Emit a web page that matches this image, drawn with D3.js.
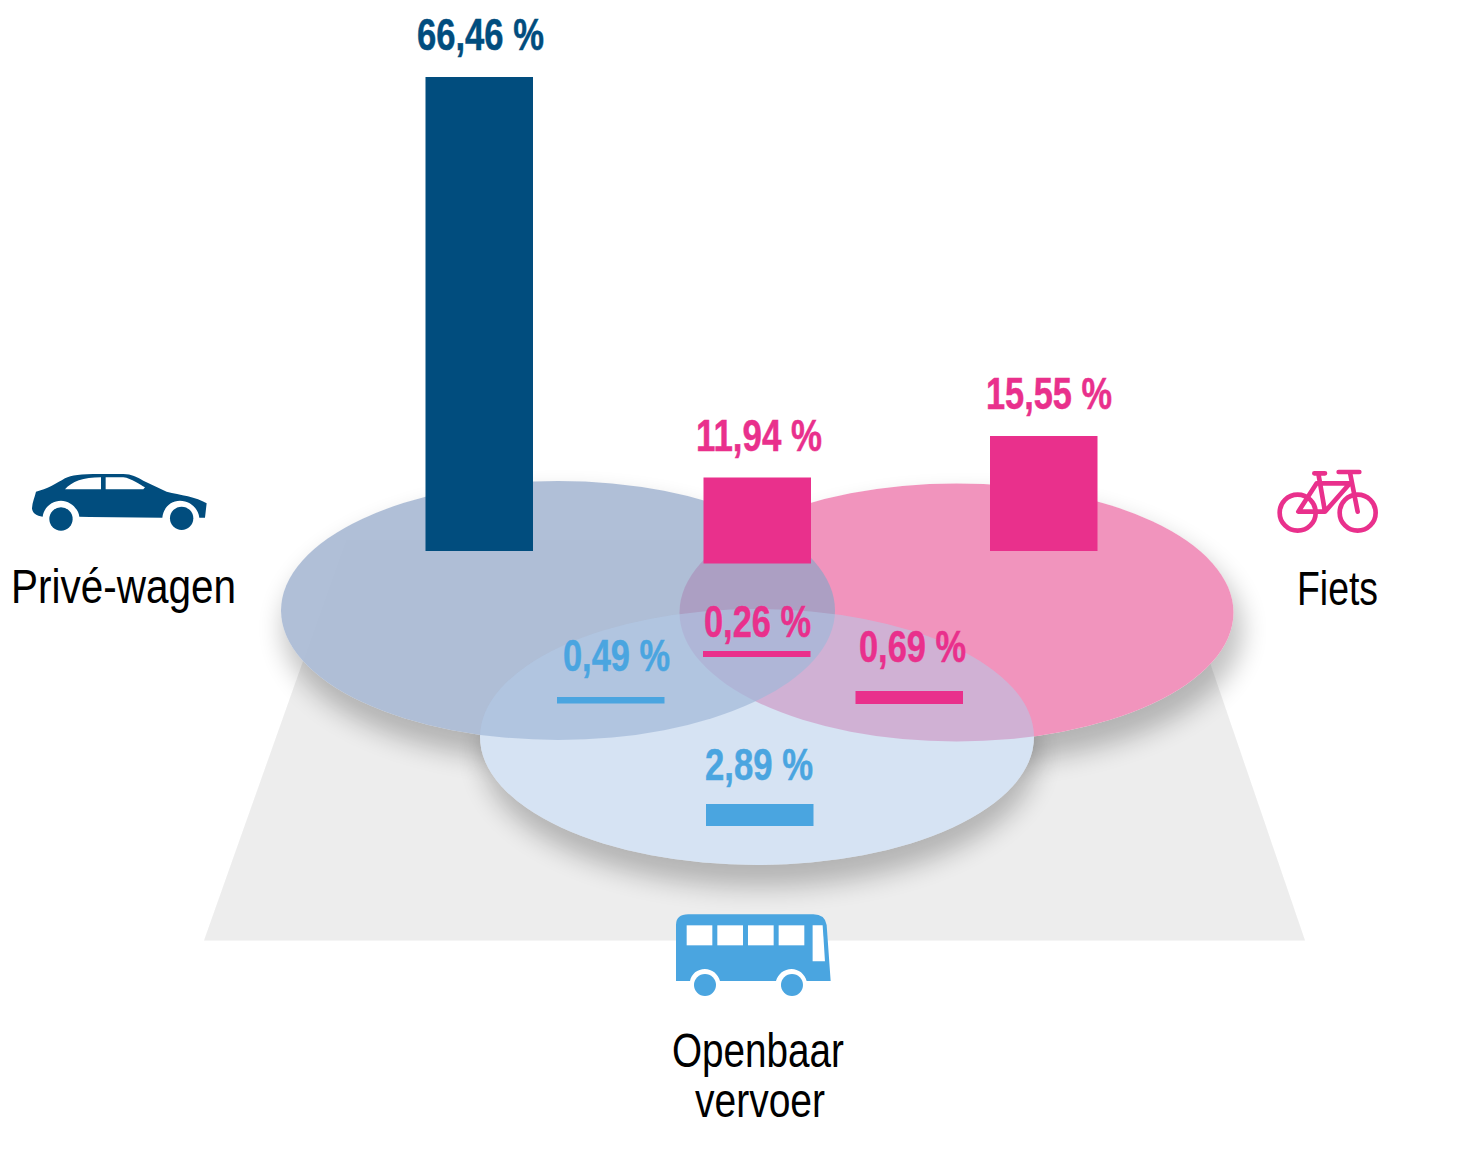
<!DOCTYPE html>
<html>
<head>
<meta charset="utf-8">
<title>Privé-wagen, fiets, openbaar vervoer</title>
<script src="https://cdn.jsdelivr.net/npm/d3@7"></script>
<style>
  html, body { margin: 0; padding: 0; background: #fff; }
  svg { display: block; }
  .value { font-family: "Liberation Sans Narrow", "Liberation Sans", Arial, sans-serif; font-weight: 700; font-size: 44px; stroke-width: 0.5px; }
  .mode { font-family: "Liberation Sans Narrow", "Liberation Sans", Arial, sans-serif; font-size: 49px; fill: #000; }
</style>
</head>
<body>
<svg id="chart"></svg>
<script>
/* data */
const regions = ["prive", "priveFiets", "fiets", "priveOv", "alle", "fietsOv", "ov"];
const values = [66.46, 11.94, 15.55, 0.49, 0.26, 0.69, 2.89];
const valueLabels = ["66,46 %", "11,94 %", "15,55 %", "0,49 %", "0,26 %", "0,69 %", "2,89 %"];
const groups = ["prive", "fiets", "fiets", "ov", "fiets", "fiets", "ov"];

const modes = ["fiets", "prive", "ov"];           // drawing order of the ellipses
const modeLabels = [["Fiets"], ["Privé-wagen"], ["Openbaar", "vervoer"]];

const width = 1461, height = 1160;
const NAVY = "#014d7e", PINK = "#e9308c", SKY = "#4aa5e0";

const colour = d3.scaleOrdinal().domain(["prive", "fiets", "ov"]).range([NAVY, PINK, SKY]);

/* layout scales: bars stand on a different baseline in every region */
const barX = d3.scaleOrdinal().domain(regions).range([425.5, 703.5, 990, 557, 703, 855.5, 706]);
const barBase = d3.scaleOrdinal().domain(regions).range([551, 563.5, 551, 703.5, 657, 704, 826]);
const labelX = d3.scaleOrdinal().domain(regions).range([417, 696, 986, 563, 704, 859, 705]);
const labelY = d3.scaleOrdinal().domain(regions).range([50, 451, 409, 671, 637, 662, 780]);
const labelW = d3.scaleOrdinal().domain(regions).range([127, 126, 126, 107, 107, 107, 108]);

// the source is not strictly linear, small shares are drawn thicker
const barH = d3.scaleLinear()
    .domain([0.26, 0.49, 0.69, 2.89, 11.94, 15.55, 66.46])
    .range([6, 6.5, 13, 22, 86, 115, 474]);
const BAR_W = 107.5;

const ellX = d3.scaleOrdinal().domain(modes).range([956.5, 558, 757]);
const ellY = d3.scaleOrdinal().domain(modes).range([612.5, 610.5, 737]);
const ellRy = d3.scaleOrdinal().domain(modes).range([129, 129.5, 128]);
const ellFill = d3.scaleOrdinal().domain(modes).range(["#f088b6", "#8ea4c6", "#b2cbea"]);
const ellAlpha = d3.scaleOrdinal().domain(modes).range([0.9, 0.7, 0.52]);
const ELL_RX = 277;

const svg = d3.select("#chart").attr("width", width).attr("height", height)
    .attr("viewBox", [0, 0, width, height]);

const defs = svg.append("defs");
defs.append("filter").attr("id", "soft")
    .attr("x", "-20%").attr("y", "-30%").attr("width", "140%").attr("height", "160%")
    .append("feGaussianBlur").attr("stdDeviation", 13);

// floor and shadows stay outside the ellipses
const mask = defs.append("mask").attr("id", "outside").attr("maskUnits", "userSpaceOnUse")
    .attr("x", 0).attr("y", 0).attr("width", width).attr("height", height);
mask.append("rect").attr("width", width).attr("height", height).attr("fill", "#fff");
mask.selectAll("ellipse").data(modes).join("ellipse")
    .attr("cx", ellX).attr("cy", ellY).attr("rx", ELL_RX).attr("ry", ellRy).attr("fill", "#000");

const floorPts = "204,940.5 346,540 1168,540 1305,940.5";
svg.append("polygon").attr("points", floorPts).attr("fill", "#ededed").attr("opacity", 0.15);

const under = svg.append("g").attr("mask", "url(#outside)");
under.append("polygon").attr("points", floorPts).attr("fill", "#ededed");
under.selectAll("ellipse").data(modes).join("ellipse")
    .attr("cx", d => ellX(d) + (d === "fiets" ? 9 : d === "prive" ? 2 : 3))
    .attr("cy", d => ellY(d) + 18)
    .attr("rx", ELL_RX)
    .attr("ry", d => ellRy(d) + 4)
    .attr("fill", "#000").attr("opacity", 0.24)
    .attr("filter", "url(#soft)");

svg.append("g").selectAll("ellipse").data(modes).join("ellipse")
    .attr("cx", ellX).attr("cy", ellY).attr("rx", ELL_RX).attr("ry", ellRy)
    .attr("fill", ellFill).attr("fill-opacity", ellAlpha);

/* bars */
svg.append("g").selectAll("rect").data(regions).join("rect")
    .attr("x", barX)
    .attr("y", d => barBase(d) - barH(values[regions.indexOf(d)]))
    .attr("width", BAR_W)
    .attr("height", d => barH(values[regions.indexOf(d)]))
    .attr("fill", (d, i) => colour(groups[i]));

/* value labels */
svg.append("g").selectAll("text").data(regions).join("text")
    .attr("class", "value")
    .attr("x", labelX).attr("y", labelY)
    .attr("textLength", labelW).attr("lengthAdjust", "spacingAndGlyphs")
    .attr("fill", (d, i) => colour(groups[i]))
    .attr("stroke", (d, i) => colour(groups[i]))
    .text((d, i) => valueLabels[i]);

/* mode names */
const nameX = [[1297], [11], [672, 695]];
const nameY = [[605], [603], [1067, 1117]];
const nameW = [[81], [225], [172, 130]];
modeLabels.forEach((lines, m) => lines.forEach((t, i) => {
    svg.append("text").attr("class", "mode")
        .attr("x", nameX[m][i]).attr("y", nameY[m][i])
        .attr("textLength", nameW[m][i]).attr("lengthAdjust", "spacingAndGlyphs")
        .text(t);
}));

/* icons, traced at 3x */
const car = svg.append("g").attr("transform", "translate(0,450) scale(0.3333)").attr("fill", NAVY);
car.append("path").attr("fill-rule", "evenodd").attr("d",
    "M108,125 C140,118 170,100 195,85 C215,75 240,72 300,72 L370,72 C395,73 410,80 430,92 L500,125 " +
    "C540,135 590,140 620,160 L615,203 L598,203 C595,175 570,152 540,152 C510,152 490,175 487,203 " +
    "L270,201 L238,200 C235,175 210,152 183,152 C155,152 132,172 128,200 C110,198 97,190 96,175 C97,155 105,140 108,125 Z " +
    "M195,118 C215,95 250,82 303,82 L303,118 Z M317,82 L370,82 C395,85 420,105 435,112 L430,118 L317,118 Z");
car.append("circle").attr("cx", 183).attr("cy", 207).attr("r", 35);
car.append("circle").attr("cx", 545).attr("cy", 205).attr("r", 35);

const bike = svg.append("g").attr("transform", "translate(1250,450) scale(0.3333)")
    .attr("fill", "none").attr("stroke", PINK).attr("stroke-width", 14).attr("stroke-linecap", "round").attr("stroke-linejoin", "round");
bike.append("circle").attr("cx", 143).attr("cy", 188).attr("r", 54);
bike.append("circle").attr("cx", 323).attr("cy", 188).attr("r", 54);
bike.append("path").attr("d",
    "M145,185 L225,185 L300,100 L200,100 Z M205,70 L225,185 M300,68 L323,185 M193,70 L225,70 M266,66 L328,66");

const bus = svg.append("g").attr("transform", "translate(650,900) scale(0.3333)");
bus.append("path").attr("fill", SKY).attr("d",
    "M78,243 L78,75 Q78,43 115,43 L490,43 Q525,43 530,75 L542,243 L470,243 C465,222 445,207 425,207 " +
    "C402,207 384,222 378,243 L210,243 C205,222 185,207 165,207 C142,207 124,222 120,243 Z");
bus.selectAll("rect").data([110, 202, 294, 386]).join("rect")
    .attr("x", d => d).attr("y", 76).attr("width", 77).attr("height", 60).attr("fill", "#fff");
bus.append("path").attr("fill", "#fff").attr("d", "M488,76 L518,76 L525,184 L488,184 Z");
bus.append("circle").attr("cx", 165).attr("cy", 255).attr("r", 33).attr("fill", SKY);
bus.append("circle").attr("cx", 426).attr("cy", 255).attr("r", 33).attr("fill", SKY);
</script>
</body>
</html>
